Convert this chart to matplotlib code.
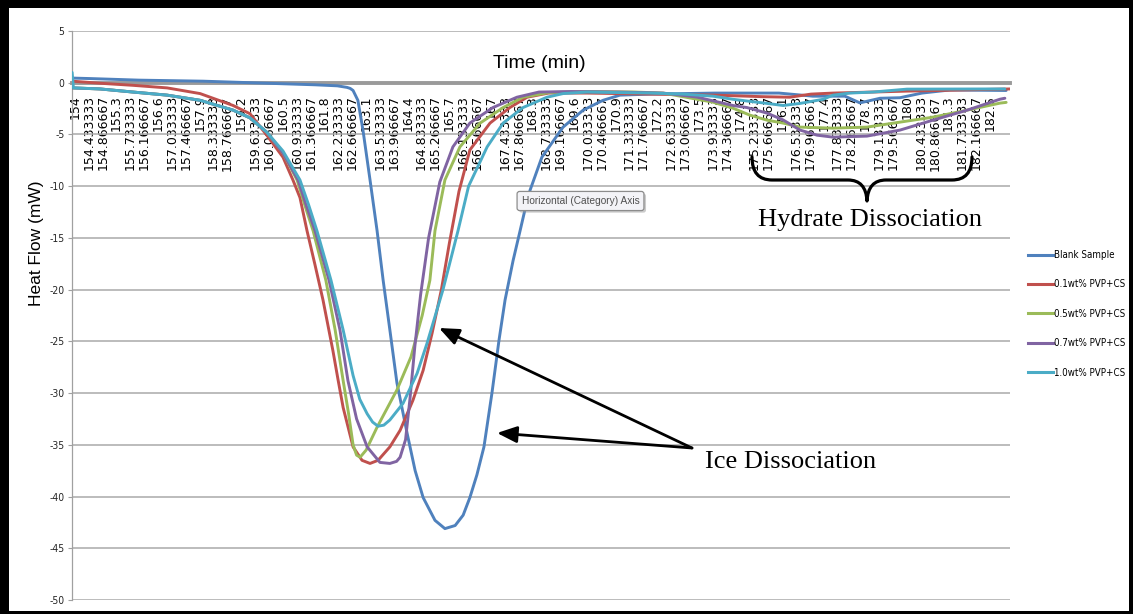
import matplotlib
matplotlib.use("Agg")
import matplotlib.pyplot as plt
from matplotlib import font_manager
from matplotlib.patches import Rectangle, PathPatch, FancyArrowPatch
from matplotlib.path import Path
from matplotlib.lines import Line2D
import matplotlib.patheffects as pe

plt.rcParams["axes.unicode_minus"] = False

W, H = 1133, 614

# category labels of the time axis (min)
time_labels = ["154", "154.433333", "154.866667", "155.3", "155.733333", "156.166667",
               "156.6", "157.033333", "157.466667", "157.9", "158.333333", "158.766667",
               "159.2", "159.633333", "160.066667", "160.5", "160.933333", "161.366667",
               "161.8", "162.233333", "162.666667", "163.1", "163.533333", "163.966667",
               "164.4", "164.833333", "165.266667", "165.7", "166.133333", "166.566667",
               "167", "167.433333", "167.866667", "168.3", "168.733333", "169.166667",
               "169.6", "170.033333", "170.466667", "170.9", "171.333333", "171.766667",
               "172.2", "172.633333", "173.066667", "173.5", "173.933333", "174.366667",
               "174.8", "175.233333", "175.666667", "176.1", "176.533333", "176.966667",
               "177.4", "177.833333", "178.266667", "178.7", "179.133333", "179.566667",
               "180", "180.433333", "180.866667", "181.3", "181.733333", "182.166667",
               "182.6"]

# heat flow (mW)
blank_t = [153.91, 154.5, 156.0, 158.0, 160.0, 161.5, 162.2, 162.5, 162.6, 162.69, 162.84,
           163.0, 163.22, 163.44, 163.63, 163.84, 164.06, 164.38, 164.63, 164.88, 165.25,
           165.56, 165.88, 166.13, 166.34, 166.56, 166.78, 167.03, 167.25, 167.44, 167.69,
           167.91, 168.06, 168.22, 168.59, 169.25, 169.88, 170.5, 171.03, 172.0, 174.0,
           176.0, 177.06, 178.06, 178.53, 179.16, 179.78, 180.47, 181.34, 183.1]
blank_v = [0.45, 0.4, 0.25, 0.15, -0.05, -0.2, -0.3, -0.45, -0.55, -0.75, -1.7,
           -4.6, -9.4, -14.3, -19.1, -23.9, -29.0, -33.9, -37.5, -40.1, -42.3,
           -43.1, -42.8, -41.8, -40.1, -37.9, -35.2, -30.0, -24.9, -21.0, -17.2,
           -14.3, -12.3, -10.4, -7.2, -4.3, -2.65, -1.7, -1.2, -1.1, -1.0,
           -1.0, -1.3, -1.3, -1.95, -1.5, -1.45, -1.0, -0.7, -0.75]

pvp01_t = [153.91, 154.78, 155.81, 156.88, 157.91, 158.94, 159.47, 160.0, 160.5, 160.81,
           161.03, 161.25, 161.5, 161.75, 162.06, 162.22, 162.38, 162.69, 162.97, 163.22,
           163.47, 163.84, 164.16, 164.56, 164.88, 165.16, 165.45, 165.7, 166.0, 166.34,
           166.97, 167.59, 168.13, 168.8, 170.0, 172.0, 174.0, 175.5, 176.34, 177.0,
           177.69, 178.94, 180.0, 181.0, 183.22]
pvp01_v = [0.15, -0.05, -0.25, -0.5, -1.05, -2.2, -3.0, -5.1, -7.2, -9.4,
           -11.1, -14.3, -17.6, -21.0, -25.9, -28.7, -31.4, -35.2, -36.5, -36.8,
           -36.5, -35.2, -33.6, -30.7, -27.8, -24.2, -20.0, -15.5, -10.5, -6.5,
           -3.9, -2.4, -1.4, -1.0, -1.0, -1.1, -1.2, -1.35, -1.4, -1.1,
           -1.0, -0.9, -0.81, -0.75, -0.6]

pvp05_t = [153.91, 154.78, 155.81, 156.88, 157.91, 158.94, 159.47, 160.0, 160.5, 160.94,
           161.2, 161.44, 161.84, 162.13, 162.38, 162.55, 162.69, 162.8, 162.91, 163.1,
           163.44, 163.75, 164.06, 164.5, 164.85, 165.09, 165.25, 165.56, 166.03, 166.66,
           167.38, 168.0, 168.8, 170.0, 171.5, 172.38, 172.91, 173.94, 174.56, 175.09,
           175.63, 176.13, 176.66, 177.69, 178.75, 179.78, 180.81, 181.88, 182.91, 183.1]
pvp05_v = [-0.5, -0.6, -0.9, -1.2, -1.7, -2.65, -3.4, -4.8, -6.8, -9.4,
           -12.0, -14.3, -19.1, -23.9, -28.8, -32.0, -35.0, -36.0, -36.2, -35.5,
           -33.3, -31.5, -29.7, -26.5, -22.5, -19.1, -14.3, -9.4, -6.2, -3.9,
           -2.4, -1.4, -0.95, -0.85, -0.9, -1.0, -1.3, -1.88, -2.46, -3.13,
           -3.62, -3.9, -4.29, -4.39, -4.29, -3.81, -3.33, -2.65, -1.97, -1.9]

pvp07_t = [153.91, 154.78, 155.81, 156.88, 157.91, 158.94, 159.47, 160.0, 160.5, 160.97,
           161.22, 161.5, 161.94, 162.28, 162.53, 162.8, 163.13, 163.53, 163.84, 164.05,
           164.16, 164.33, 164.47, 164.62, 164.8, 165.05, 165.4, 165.81, 166.34, 167.06,
           167.81, 168.5, 169.5, 171.0, 172.38, 173.44, 174.56, 175.0, 175.63, 176.13,
           176.66, 177.19, 177.69, 178.75, 179.78, 180.81, 181.88, 182.91, 183.06]
pvp07_v = [-0.5, -0.6, -0.9, -1.2, -1.7, -2.65, -3.4, -4.8, -6.8, -9.4,
           -11.8, -14.3, -19.1, -23.9, -28.8, -32.5, -35.2, -36.7, -36.8, -36.6,
           -36.2, -34.5, -30.5, -25.5, -20.5, -15.0, -9.6, -6.2, -3.9, -2.4,
           -1.4, -0.9, -0.85, -0.9, -1.0, -1.39, -2.2, -2.4, -2.94, -3.6,
           -4.58, -5.07, -5.26, -5.16, -4.58, -3.62, -2.65, -1.59, -1.5]

pvp10_t = [153.91, 153.95, 154.78, 155.81, 156.88, 157.91, 158.94, 159.47, 160.0, 160.5,
           161.03, 161.3, 161.56, 162.0, 162.38, 162.69, 162.9, 163.13, 163.3, 163.47,
           163.65, 163.84, 164.25, 164.69, 165.0, 165.5, 165.97, 166.3, 166.88, 167.38,
           168.0, 168.75, 169.25, 170.0, 171.0, 172.0, 173.0, 173.94, 174.56, 175.09,
           175.63, 176.13, 176.66, 177.38, 177.69, 178.22, 178.94, 180.0, 183.06]
pvp10_v = [1.0, -0.5, -0.6, -0.9, -1.2, -1.7, -2.65, -3.4, -4.8, -6.6,
           -9.4, -11.8, -14.3, -19.1, -23.9, -28.3, -30.6, -32.0, -32.8, -33.2,
           -33.1, -32.6, -31.0, -28.1, -25.2, -20.0, -14.3, -10.0, -6.2, -3.9,
           -2.4, -1.4, -1.05, -0.9, -0.95, -1.0, -1.1, -1.3, -1.6, -1.8,
           -2.0, -2.2, -2.0, -1.6, -1.2, -1.0, -0.9, -0.62, -0.6]

series_names = ["Blank Sample", "0.1wt% PVP+CS", "0.5wt% PVP+CS", "0.7wt% PVP+CS", "1.0wt% PVP+CS"]
series_t = [blank_t, pvp01_t, pvp05_t, pvp07_t, pvp10_t]
series_v = [blank_v, pvp01_v, pvp05_v, pvp07_v, pvp10_v]
colors = ["#4F81BD", "#C0504D", "#9BBB59", "#8064A2", "#4BACC6"]

SANS = "Liberation Sans"
SERIF = "Liberation Serif"
MONO = "DejaVu Sans Mono"
narrow = font_manager.FontProperties(family="DejaVu Sans", stretch="condensed", size=7.0)


def fx(px):
    return px / W


def fy(py):
    return 1 - py / H


fig = plt.figure(figsize=(W / 100, H / 100), dpi=100)
ax = fig.add_axes([72 / W, 14 / H, 938 / W, 569 / H])

for name, t, v, c in zip(series_names, series_t, series_v, colors):
    ax.plot(t, v, color=c, lw=2.1, label=name, solid_joinstyle="round",
            solid_capstyle="round", zorder=3)

ax.set_xlim(153.906, 183.22)
ax.set_ylim(-50, 5)
ax.set_yticks(range(-50, 6, 5))
ax.yaxis.grid(True, color="#a9a9a9", lw=1.1)
ax.set_axisbelow(True)

ax.tick_params(axis="x", length=0, pad=9, labelrotation=90, labelsize=9)
ax.set_xticks([float(s) for s in time_labels])
ax.set_xticklabels(time_labels, family=MONO, fontsize=9, rotation=90)
ax.tick_params(axis="y", length=3, width=0.8, color="#a0a0a0", pad=2.5,
               labelsize=7.5, labelcolor="#262626")
for lab in ax.get_yticklabels():
    lab.set_fontstretch("condensed")

ax.spines["bottom"].set_position(("data", 0))
ax.spines["bottom"].set_color("#9a9a9a")
ax.spines["bottom"].set_linewidth(2.8)
ax.spines["left"].set_color("#a0a0a0")
ax.spines["left"].set_linewidth(0.9)
ax.spines["top"].set_visible(False)
ax.spines["right"].set_visible(False)

fig.text(fx(539), fy(64), "Time (min)", ha="center", va="center", fontsize=14, family=SANS)
fig.text(fx(36), fy(243), "Heat Flow (mW)", ha="center", va="center", rotation=90,
         fontsize=12.5, family=SANS)

handles = [Line2D([], [], color=c, lw=2.2) for c in colors]
fig.legend(handles, series_names, loc="upper left", bbox_to_anchor=(fx(1028), fy(250)),
           frameon=False, handlelength=2.6, handletextpad=0.05, labelspacing=2.0,
           borderpad=0, borderaxespad=0, prop=narrow)

# tooltip left on the screenshot
tip = fig.text(fx(580.5), fy(201), "Horizontal (Category) Axis", ha="center", va="center",
               fontsize=7.3, family=SANS, color="#505050",
               bbox=dict(boxstyle="round,pad=0.45,rounding_size=0.25", fc="#f3f3f7",
                         ec="#8c8c8c", lw=0.9))
tip.get_bbox_patch().set_path_effects([
    pe.SimplePatchShadow(offset=(1.5, -1.5), shadow_rgbFace="#999999", alpha=0.5),
    pe.Normal()])

# hydrate brace
brace = [(752, 157), (752, 180), (772, 180), (848, 180), (866, 180), (867, 201),
         (868, 180), (886, 180), (952, 180), (972, 180), (972, 157)]
codes = [Path.MOVETO, Path.CURVE3, Path.CURVE3, Path.LINETO, Path.CURVE3, Path.CURVE3,
         Path.CURVE3, Path.CURVE3, Path.LINETO, Path.CURVE3, Path.CURVE3]
fig.add_artist(PathPatch(Path([(fx(x), fy(y)) for x, y in brace], codes),
                         transform=fig.transFigure, fill=False, ec="black", lw=2.3,
                         capstyle="round", joinstyle="round"))
fig.text(fx(758), fy(226), "Hydrate Dissociation", ha="left", va="baseline",
         fontsize=19, family=SERIF)

# ice arrows
for tx, ty in [(439, 328), (497, 433)]:
    fig.add_artist(FancyArrowPatch(
        (fx(692), fy(448)), (fx(tx), fy(ty)), transform=fig.transFigure,
        arrowstyle="-|>,head_length=0.6,head_width=0.25", mutation_scale=20,
        color="black", lw=2, shrinkA=0, shrinkB=0))
fig.text(fx(705), fy(468), "Ice Dissociation", ha="left", va="baseline",
         fontsize=19, family=SERIF)

# outer frame of the screenshot
for x0, y0, w, h in [(0, 0, 9 / W, 1), (0, 1 - 8 / H, 1, 8 / H),
                     (1 - 4 / W, 0, 4 / W, 1), (0, 0, 1, 3 / H)]:
    fig.add_artist(Rectangle((x0, y0), w, h, transform=fig.transFigure,
                             color="black", lw=0))

fig.savefig("out.png", dpi=100)
